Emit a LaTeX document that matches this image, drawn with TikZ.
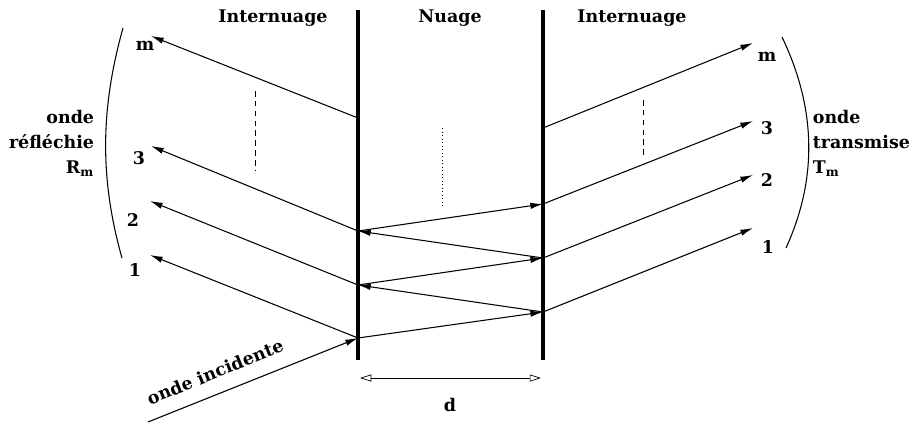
\documentclass[tikz,border=0pt]{standalone}
\usepackage{fontspec}
\setmainfont{DejaVu Serif}[BoldFont={DejaVu Serif Bold}]
\usetikzlibrary{arrows.meta}

\begin{document}
\begin{tikzpicture}[x=0.025cm,y=-0.025cm,line width=0.75pt,
            every node/.style={inner sep=1pt,font=\bfseries\fontsize{12.4}{18}\selectfont},
            >={Latex[length=9pt,width=4.5pt]},
            paroi/.style={line width=2.2pt},
            renvoi/.style={dashed,dash pattern=on 4pt off 3pt,line width=0.5pt}]
  \useasboundingbox (0,0) rectangle (910,428);
  % les deux parois du nuage
  \draw[paroi](358,10)--(358,360);
  \draw[paroi](543,10)--(543,360);
  \node (ti1) at (273,18) {Internuage};
  \node (tn) at (450,18) {Nuage};
  \node (ti2) at (632,18) {Internuage};
  % points de reflexion
  \coordinate (g1) at (358,338);
  \coordinate (g2) at (358,285);
  \coordinate (g3) at (358,231);
  \coordinate (gm) at (358,118);
  \coordinate (d1) at (543,312);
  \coordinate (d2) at (543,258);
  \coordinate (d3) at (543,204);
  \coordinate (dm) at (543,128);
  % onde incidente
  \coordinate (src) at (148,422);
  \draw[->](src)--(g1);
  \node[rotate=22] (inc) at (215,372) {onde incidente};
  % allers-retours dans le nuage
  \draw[->](g1)--(d1);
  \draw[->](d1)--(g2);
  \draw[->](g2)--(d2);
  \draw[->](d2)--(g3);
  \draw[->](g3)--(d3);
  % ondes reflechies
  \coordinate (r1) at (150,255);
  \coordinate (r2) at (150,201);
  \coordinate (r3) at (151,146);
  \coordinate (rm) at (151,36);
  \draw[->](g1)--(r1);
  \draw[->](g2)--(r2);
  \draw[->](g3)--(r3);
  \draw[->](gm)--(rm);
  % ondes transmises
  \coordinate (t1) at (753,228);
  \coordinate (t2) at (753,175);
  \coordinate (t3) at (753,121);
  \coordinate (tm) at (753,43);
  \draw[->](d1)--(t1);
  \draw[->](d2)--(t2);
  \draw[->](d3)--(t3);
  \draw[->](dm)--(tm);
  % numeros
  \node (nr1) at (135,270) {1};
  \node (nr2) at (133,220) {2};
  \node (nr3) at (139,158) {3};
  \node (nrm) at (145,46) {m};
  \node (nt1) at (768,247) {1};
  \node (nt2) at (767,180) {2};
  \node (nt3) at (767,128) {3};
  \node (ntm) at (767,57) {m};
  % pointilles
  \draw[renvoi](255,91)--(255,170);
  \draw[renvoi](643,100)--(643,157);
  \draw[dotted,line width=0.5pt](442,128)--(442,206);
  % parentheses
  \draw(123,28)..controls(100,110)and(100,180)..(122,258);
  \draw(782,37)..controls(817,110)and(817,180)..(786,248);
  \node[anchor=east,align=right] (lr) at (96,143) {onde\\réfléchie\\R\textsubscript{m}};
  \node[anchor=west,align=left] (lt) at (811,143) {onde\\transmise\\T\textsubscript{m}};
  % epaisseur
  \coordinate (ea) at (360,378);
  \coordinate (eb) at (541,378);
  \draw[{Triangle[open,length=8pt,width=5pt]}-{Triangle[open,length=8pt,width=5pt]},line width=0.5pt](ea)--(eb);
  \node (dd) at (450,405) {d};
\end{tikzpicture}
\end{document}
